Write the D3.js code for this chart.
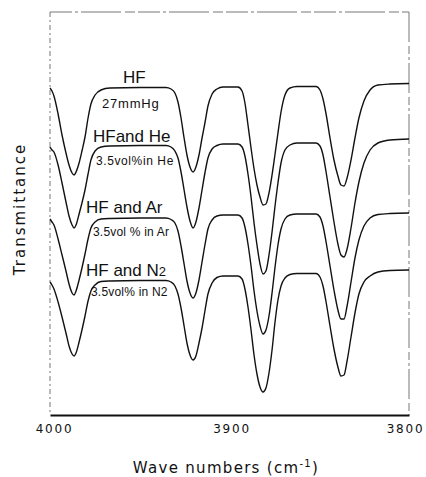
<!DOCTYPE html>
<html>
<head>
<meta charset="utf-8">
<script src="https://cdn.jsdelivr.net/npm/d3@7"></script>
<style>
  html, body { margin: 0; padding: 0; background: #fff; }
  svg { display: block; }
  text { font-family: "Liberation Sans", Arial, sans-serif; fill: #111; }
</style>
</head>
<body>
<svg id="chart" width="426" height="477"></svg>
<script>
// ---- data (wavenumber in cm^-1, transmittance in arbitrary stacked units) ----
const wavenumbers = [
  4000.0, 3998.9, 3997.8, 3995.5, 3993.3, 3991.1, 3989.4, 3987.7, 3986.6, 3985.5,
  3983.8, 3982.2, 3980.5, 3978.8, 3977.2, 3974.9, 3971.6, 3966.6, 3949.9, 3935.4,
  3932.6, 3930.4, 3928.7, 3927.0, 3925.3, 3923.7, 3922.0, 3920.3, 3918.7, 3917.0,
  3915.3, 3913.6, 3912.0, 3909.7, 3907.0, 3903.6, 3895.3, 3893.0, 3891.4, 3889.7,
  3888.0, 3886.4, 3884.7, 3883.0, 3881.3, 3879.7, 3878.0, 3876.3, 3874.7, 3873.0,
  3871.3, 3869.1, 3866.3, 3862.4, 3851.8, 3849.6, 3847.9, 3846.2, 3844.0, 3841.8,
  3839.6, 3837.9, 3836.2, 3834.5, 3832.3, 3830.1, 3827.9, 3825.1, 3821.7, 3817.3,
  3810.6, 3800.0
];
const hf = [
  327, 324, 319, 301, 280, 262, 250, 242, 240, 243,
  252, 264, 278, 297, 311, 320, 325, 327, 327.5, 327.5,
  326, 322, 313, 297, 277, 260, 248, 243, 248, 260,
  277, 293, 309, 321, 326, 328, 328, 324, 312, 290,
  267, 247, 230, 218, 210, 211, 222, 240, 260, 282,
  303, 320, 327, 328.5, 328.5, 325, 316, 301, 277, 255,
  239, 230, 229, 237, 255, 277, 297, 314, 325, 330,
  331, 331.5
];
const hfHe = [
  268, 265, 263, 250, 232, 213, 199, 190, 187, 190,
  201, 212, 225, 241, 255, 264, 268, 269, 269.5, 269.5,
  268, 264, 257, 243, 225, 208, 194, 187, 193, 207,
  225, 243, 257, 266, 269.5, 271, 271, 268, 259, 241,
  218, 193, 170, 151, 141, 144, 160, 183, 208, 232,
  252, 265, 270, 272, 272, 269, 260, 243, 218, 193,
  171, 160, 158, 166, 187, 212, 233, 252, 265, 272,
  275, 276
];
const hfAr = [
  196, 193, 190, 176, 160, 144, 131, 122, 120, 124,
  135, 147, 161, 176, 187, 193, 196, 196.5, 197, 197,
  195.5, 192, 184, 169, 151, 134, 122, 117, 122, 135,
  153, 171, 186, 195, 199, 200, 200, 197, 188, 171,
  149, 125, 104, 89, 81, 85, 99, 122, 147, 170,
  186, 196, 200, 201, 201, 198, 189, 173, 149, 125,
  105, 96, 96, 109, 133, 157, 175, 189, 197, 200.5,
  201.5, 202
];
const hfN2 = [
  133, 130, 126, 113, 98, 82, 69, 61, 59, 62,
  73, 85, 99, 114, 124, 130, 133.5, 134, 134.5, 134.5,
  133, 129, 121, 107, 89, 72, 60, 55, 59, 72,
  87, 105, 121, 132, 137.5, 139, 139, 136, 126, 108,
  85, 61, 41, 28, 23, 27, 42, 65, 92, 115,
  129, 137, 140.5, 141.5, 141.5, 138, 129, 113, 89, 66,
  48, 39, 40, 54, 78, 102, 121, 133, 139, 143,
  144.5, 145
];
const seriesNames = ["HF", "HF and He", "HF and Ar", "HF and N2"];
const xTicks = [4000, 3900, 3800];
const xDomain = [4000, 3800];
const yDomain = [0, 403];

// ---- layout ----
const W = 426, H = 477;
const L = 50, R = 409, T = 12, B = 415;

const svg = d3.select("#chart");
svg.append("rect").attr("width", W).attr("height", H).attr("fill", "#fff");

const x = d3.scaleLinear().domain(xDomain).range([L, R]);
const y = d3.scaleLinear().domain(yDomain).range([B, T]);

// frame (broken/dashed like the scanned original)
const frame = svg.append("g").attr("fill", "none").attr("stroke", "#777").attr("stroke-width", 1);
frame.append("line").attr("x1", L).attr("x2", R).attr("y1", T).attr("y2", T)
  .attr("stroke-dasharray", "22,3,3,3,40,4,10,3");
frame.append("line").attr("x1", L).attr("x2", L).attr("y1", T).attr("y2", B)
  .attr("stroke-dasharray", "5,3,2,3");
frame.append("line").attr("x1", R).attr("x2", R).attr("y1", T).attr("y2", B)
  .attr("stroke-dasharray", "30,4,8,3,3,3");

// curves
const line = d3.line()
  .x((d, i) => x(wavenumbers[i]))
  .y(d => y(d))
  .curve(d3.curveMonotoneX);

[hf, hfHe, hfAr, hfN2].forEach((s, k) => {
  svg.append("path")
    .datum(s)
    .attr("class", "series")
    .attr("data-name", seriesNames[k])
    .attr("fill", "none")
    .attr("stroke", "#111")
    .attr("stroke-width", 1.4)
    .attr("stroke-linejoin", "round")
    .attr("d", line);
});

// x axis
const xAxis = d3.axisBottom(x).tickValues(xTicks).tickSize(0).tickPadding(9)
  .tickFormat(d3.format("d"));
const gx = svg.append("g").attr("transform", `translate(0,${B})`).call(xAxis);
gx.select(".domain").attr("stroke", "#111").attr("stroke-width", 2);
const tickShift = {4000: 4, 3900: 2, 3800: -4};
gx.selectAll("text")
  .style("font-family", "'DejaVu Sans', sans-serif")
  .style("font-size", "12px")
  .style("letter-spacing", "1.8px")
  .attr("dx", d => tickShift[d])
  .attr("fill", "#111");

// axis titles
svg.append("text")
  .attr("x", 226).attr("y", 473)
  .attr("text-anchor", "middle")
  .style("font-family", "'DejaVu Sans', sans-serif")
  .style("font-size", "15px")
  .style("letter-spacing", "1.3px")
  .text("Wave numbers (cm")
  .append("tspan").attr("dy", -6).style("font-size", "10px").text("-1")
  .select(function () { return this.parentNode; })
  .append("tspan").attr("dy", 6).text(")");

svg.append("text")
  .attr("transform", "translate(25,209) rotate(-90)")
  .attr("text-anchor", "middle")
  .style("font-family", "'DejaVu Sans', sans-serif")
  .style("font-size", "15px")
  .style("letter-spacing", "2px")
  .text("Transmittance");

// annotations
const ann = svg.append("g");
function big(xp, yp, parts) {
  const t = ann.append("text").attr("x", xp).attr("y", yp).style("font-size", "17px");
  parts.forEach(p => {
    const ts = t.append("tspan").text(p.t);
    if (p.small) ts.style("font-size", "13px");
  });
}
function small(xp, yp, txt, ls) {
  ann.append("text").attr("x", xp).attr("y", yp)
    .style("font-size", "12px").style("letter-spacing", (ls || 0.4) + "px").text(txt);
}
big(123, 83, [{t: "HF"}]);
ann.append("text").attr("x", 102).attr("y", 108)
  .style("font-size", "13px").style("letter-spacing", "0.8px").text("27mmHg");
big(93, 142, [{t: "HFand He"}]);
small(96, 165, "3.5vol%in He", 0.6);
big(86, 213, [{t: "HF and Ar"}]);
small(93, 236, "3.5vol % in Ar", 0.2);
big(86, 276, [{t: "HF and N"}, {t: "2", small: true}]);
small(91, 296, "3.5vol% in N2", 0.2);
</script>
</body>
</html>
